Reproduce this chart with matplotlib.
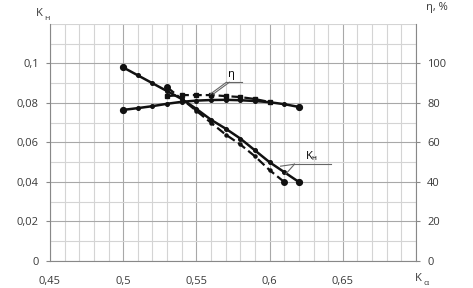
import numpy as np
import matplotlib
matplotlib.use("Agg")
from matplotlib import pyplot as plt
from matplotlib.ticker import MultipleLocator

plt.rcParams['font.family'] = ['Open Sans', 'DejaVu Sans']

# data
k_alpha = [0.50, 0.51, 0.52, 0.53, 0.54, 0.55, 0.56, 0.57, 0.58, 0.59, 0.60, 0.61, 0.62]
k_h = [0.098, 0.094, 0.090, 0.086, 0.082, 0.077, 0.0715, 0.067, 0.062, 0.056, 0.050, 0.045, 0.040]
eta = [76.5, 77.4, 78.4, 79.6, 80.6, 81.2, 81.5, 81.6, 81.4, 81.0, 80.4, 79.4, 78.0]

k_alpha_d = [0.53, 0.54, 0.55, 0.56, 0.57, 0.58, 0.59, 0.60, 0.61]
k_h_d = [0.088, 0.082, 0.076, 0.070, 0.064, 0.059, 0.053, 0.046, 0.040]
k_alpha_de = [0.53, 0.54, 0.55, 0.56, 0.57, 0.58, 0.59, 0.60]
eta_d = [83.5, 84.0, 84.0, 84.0, 83.5, 83.0, 82.0, 80.5]

fig = plt.figure(figsize=(4.73, 2.88), dpi=100)
ax = fig.add_axes([0.1057, 0.0938, 0.7738, 0.8229])
ax2 = ax.twinx()

ax.set_xlim(0.45, 0.70)
ax.set_ylim(0, 0.12)
ax2.set_ylim(0, 120)

# grid: minor every 0.01 / 0.01, major darker
ax.xaxis.set_minor_locator(MultipleLocator(0.01))
ax.yaxis.set_minor_locator(MultipleLocator(0.01))
ax.set_xticks([0.45, 0.5, 0.55, 0.6, 0.65, 0.7])
ax.set_xticklabels(['0,45', '0,5', '0,55', '0,6', '0,65', ''])
ax.set_yticks([0, 0.02, 0.04, 0.06, 0.08, 0.1])
ax.set_yticklabels(['0', '0,02', '0,04', '0,06', '0,08', '0,1'])
ax2.set_yticks([0, 20, 40, 60, 80, 100])
ax.grid(which='minor', color='#d4d4d4', lw=0.8)
ax.grid(which='major', color='#a8a8a8', lw=0.8)
ax.set_axisbelow(True)

for a in (ax, ax2):
    for s in a.spines.values():
        s.set_visible(False)
    a.tick_params(which='minor', length=0)
    a.tick_params(which='major', length=3, color='#888888', labelsize=8, labelcolor='#3a3a3a', pad=5)
ax.spines['left'].set_visible(True)
ax.spines['left'].set_color('#888888')
ax.spines['bottom'].set_visible(True)
ax.spines['bottom'].set_color('#888888')
ax2.spines['right'].set_visible(True)
ax2.spines['right'].set_color('#888888')
ax.tick_params(axis='x', length=0, pad=11)

# solid curves
ends = [0, len(k_alpha) - 1]
ax.plot(k_alpha, k_h, color='#111111', lw=1.8, marker='o', ms=2.6)
ax.plot([k_alpha[i] for i in ends], [k_h[i] for i in ends], ls='none', color='#111111', marker='o', ms=4.2)
ax2.plot(k_alpha, eta, color='#111111', lw=1.8, marker='o', ms=2.6)
ax2.plot([k_alpha[i] for i in ends], [eta[i] for i in ends], ls='none', color='#111111', marker='o', ms=4.2)
# dashed curves
ax.plot(k_alpha_d, k_h_d, color='#111111', lw=1.6, ls=(0, (4, 1.8)), marker='o', ms=2.2)
ax.plot([k_alpha_d[0], k_alpha_d[-1]], [k_h_d[0], k_h_d[-1]], ls='none', color='#111111', marker='o', ms=4)
ax2.plot(k_alpha_de, eta_d, color='#111111', lw=1.6, ls=(0, (4, 1.8)), marker='s', ms=2.2)

# labels on curves with leader lines
ax2.text(0.5715, 91.5, 'η', fontsize=8, ha='left', va='bottom')
ax2.plot([0.5705, 0.581], [90.5, 90.5], color='#666666', lw=0.8)
ax2.plot([0.5705, 0.5595], [90.5, 84.5], color='#666666', lw=0.8)
ax2.plot([0.5725, 0.5615], [90.5, 84.5], color='#666666', lw=0.8)
ax.text(0.624, 0.0495, 'K$_\\mathregular{н}$', fontsize=8, ha='left', va='bottom')
ax.plot([0.617, 0.642], [0.049, 0.049], color='#666666', lw=0.8)
ax.plot([0.617, 0.6075], [0.049, 0.048], color='#666666', lw=0.8)
ax.plot([0.617, 0.611], [0.049, 0.044], color='#666666', lw=0.8)

# axis titles
fig.text(0.075, 0.935, 'K', fontsize=8, color='#3a3a3a', ha='left', va='bottom')
fig.text(0.093, 0.925, 'н', fontsize=6, color='#3a3a3a', ha='left', va='bottom')
fig.text(0.90, 0.955, 'η, %', fontsize=8, color='#3a3a3a', ha='left', va='bottom')
fig.text(0.878, 0.015, 'K', fontsize=8, color='#3a3a3a', ha='left', va='bottom')
fig.text(0.896, 0.005, 'α', fontsize=6, color='#3a3a3a', ha='left', va='bottom')

fig.savefig('out.png', dpi=100)
